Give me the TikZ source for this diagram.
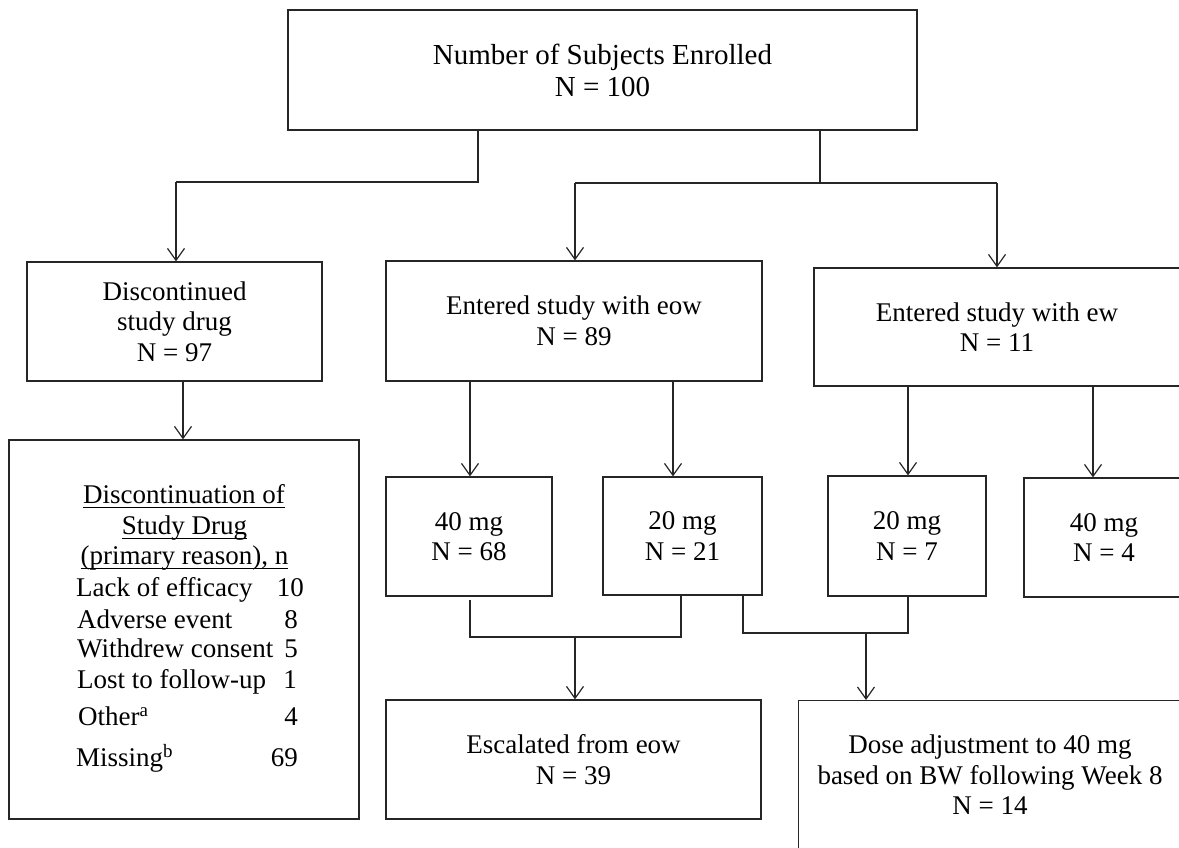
\documentclass[tikz,border=0pt]{standalone}
\usepackage{fontspec}
\setmainfont{Liberation Serif}
\usetikzlibrary{arrows.meta}
\newcommand\diagfont{\fontsize{27}{30.5}\selectfont}
\newcommand\topfont{\fontsize{29}{32}\selectfont}
\newcommand\hdline[1]{\underline{\raisebox{0pt}[\height][2.5pt]{#1}}}
\begin{document}
\begin{tikzpicture}[x=1pt,y=-1pt,
  box/.style={draw=black!85, line width=1.2pt, inner sep=0pt, align=center, font=\diagfont},
  txtc/.style={inner sep=0pt, align=center, font=\diagfont},
  txt/.style={inner sep=0pt, font=\diagfont, text height=19pt, text depth=6pt},
  conn/.style={draw=black!85, line width=1.2pt},
  arr/.style={conn, -{Straight Barb[length=12pt,width=17pt]}}]
\useasboundingbox (0,0) rectangle (1179,847);
\clip (0,0) rectangle (1179,847);

% boxes
\node[box, font=\topfont, minimum width=629pt, minimum height=120pt] (top) at (602.5,70) {Number of Subjects Enrolled\\N = 100};
\node[box, minimum width=295pt, minimum height=119pt] (disc) at (174.5,321.5) {Discontinued\\study drug\\N = 97};
\node[box, minimum width=350pt, minimum height=379pt] (reasons) at (184,629.5) {};
\node[box, minimum width=376pt, minimum height=120pt] (eow) at (574,321) {Entered study with eow\\N = 89};
\node[box, minimum width=366pt, minimum height=118pt] (ew) at (997,327) {Entered study with ew\\N = 11};
\node[box, minimum width=166pt, minimum height=119pt] (a40) at (469,536.5) {40 mg\\N = 68};
\node[box, minimum width=159pt, minimum height=118pt] (b20) at (682.5,536) {20 mg\\N = 21};
\node[box, minimum width=158pt, minimum height=120pt] (c20) at (907,536) {20 mg\\N = 7};
\node[box, minimum width=160pt, minimum height=119pt] (d40) at (1104,537.5) {40 mg\\N = 4};
\node[box, minimum width=375pt, minimum height=119pt] (esc) at (573.5,759.5) {Escalated from eow\\N = 39};
\node[box, minimum width=420pt, minimum height=150pt, anchor=north west] (dose) at (798,700) {};
\node[txtc] (doset) at (990,775) {Dose adjustment to 40 mg\\based on BW following Week 8\\N = 14};

% reasons text
\node[txt] (h1) at (184,497) {\hdline{Discontinuation of}};
\node[txt] (h2) at (184.5,528) {\hdline{Study Drug}};
\node[txt] (h3) at (184.5,558) {\hdline{(primary reason), n}};
\node[txt, anchor=west] (r1) at (76,590) {Lack of efficacy};
\node[txt, anchor=west] (r2) at (77,622) {Adverse event};
\node[txt, anchor=west] (r3) at (77,651) {Withdrew consent};
\node[txt, anchor=west] (r4) at (77,682) {Lost to follow-up};
\node[txt, anchor=west] (r5) at (78,719) {Other\textsuperscript{a}};
\node[txt, anchor=west] (r6) at (76,760) {Missing\textsuperscript{b}};
\node[txt, anchor=east] (v1) at (304,590) {10};
\node[txt, anchor=east] (v2) at (298,622) {8};
\node[txt, anchor=east] (v3) at (298,651) {5};
\node[txt, anchor=east] (v4) at (297,682) {1};
\node[txt, anchor=east] (v5) at (298,719) {4};
\node[txt, anchor=east] (v6) at (298,760) {69};

% connectors from top
\coordinate (t1) at (478,182);
\coordinate (t2) at (176,182);
\draw[conn] (t1 |- top.south) -- (t1) -- (t2);
\draw[arr] (t2) -- (t2 |- disc.north);
\coordinate (t3) at (820,183);
\coordinate (e1) at (575,183);
\coordinate (e2) at (997,183);
\draw[conn] (t3 |- top.south) -- (t3);
\draw[conn] (e1) -- (e2);
\draw[arr] (e1) -- (e1 |- eow.north);
\draw[arr] (e2) -- (e2 |- ew.north);

% disc -> reasons
\coordinate (d1) at (183,410);
\draw[arr] (d1 |- disc.south) -- (d1 |- reasons.north);

% eow / ew -> dose boxes
\coordinate (c1) at (470,430);
\coordinate (c2) at (673,430);
\coordinate (c3) at (908,430);
\coordinate (c4) at (1093,430);
\draw[arr] (c1 |- eow.south) -- (c1 |- a40.north);
\draw[arr] (c2 |- eow.south) -- (c2 |- b20.north);
\draw[arr] (c3 |- ew.south) -- (c3 |- c20.north);
\draw[arr] (c4 |- ew.south) -- (c4 |- d40.north);

% merges
\coordinate (m1) at (470,637);
\coordinate (m2) at (681,637);
\coordinate (m3) at (575,637);
\draw[conn] ([yshift=-3pt]m1 |- a40.south) -- (m1) -- (m2) -- (m2 |- b20.south);
\draw[arr] (m3) -- (m3 |- esc.north);
\coordinate (n1) at (743,633);
\coordinate (n2) at (908,633);
\coordinate (n3) at (866,633);
\draw[conn] (n1 |- b20.south) -- (n1) -- (n2) -- (n2 |- c20.south);
\draw[arr] (n3) -- (n3 |- dose.north);
\end{tikzpicture}
\end{document}
